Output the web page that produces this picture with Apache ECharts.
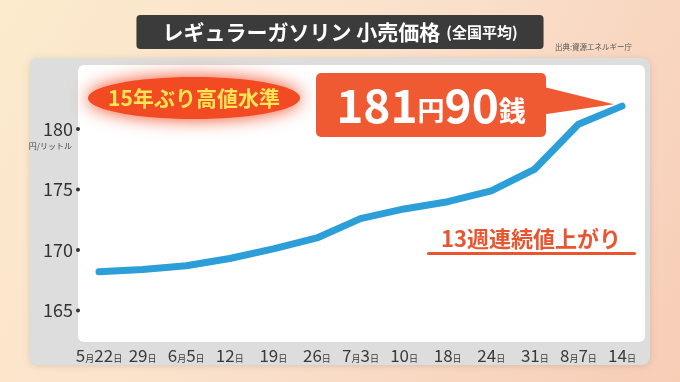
<!DOCTYPE html>
<html>
<head>
<meta charset="utf-8">
<script src="https://cdn.jsdelivr.net/npm/echarts@6/dist/echarts.min.js"></script>
<style>
html,body{margin:0;padding:0;width:680px;height:382px;overflow:hidden;}
#c{width:680px;height:382px;}
</style>
</head>
<body>
<div id="c"></div>
<script>
// ---- data ----
const categories = ['5月22日','29日','6月5日','12日','19日','26日','7月3日','10日','18日','24日','31日','8月7日','14日'];
const prices = [168.2, 168.4, 168.7, 169.3, 170.1, 171.0, 172.6, 173.4, 174.0, 174.9, 176.7, 180.4, 181.9];
const yTicks = [165, 170, 175, 180];
const titleMain = 'レギュラーガソリン 小売価格';
const titleSub = '(全国平均)';
const sourceText = '出典:資源エネルギー庁';
const unitText = '円/リットル';
const badgeText = '15年ぶり高値水準';
const calloutText = ['181', '円', '90', '銭'];
const streakText = '13週連続値上がり';

const FONT = '"Noto Sans CJK JP", "Noto Sans", sans-serif';
const chart = echarts.init(document.getElementById('c'), null, {renderer: 'canvas'});

function xFmt(v) {
  return v.replace(/(\d+)/g, '{n|$1}').replace(/月/g, '{s|月}').replace(/日/g, '{s|日}');
}

const option = {
  animation: false,
  textStyle: {fontFamily: FONT},
  title: {
    text: '{a|' + titleMain + '}{b|' + titleSub + '}',
    left: 'center',
    top: 15,
    backgroundColor: '#3b3b3b',
    borderRadius: 4,
    padding: [7, 26, 6, 26],
    textStyle: {
      rich: {
        a: {fontFamily: FONT, fontSize: 21, fontWeight: 'bold', color: '#ffffff', padding: [0, 6, 0, 0]},
        b: {fontFamily: FONT, fontSize: 15, fontWeight: 'bold', color: '#ffffff'}
      }
    }
  },
  grid: {left: 99, right: 58, top: 65, bottom: 40, containLabel: false},
  xAxis: {
    type: 'category',
    data: categories,
    boundaryGap: false,
    axisLine: {show: false},
    axisTick: {show: false},
    axisLabel: {
      margin: 5,
      interval: 0,
      formatter: xFmt,
      rich: {
        n: {fontFamily: FONT, fontSize: 17, color: '#3a3a3a', verticalAlign: 'bottom'},
        s: {fontFamily: FONT, fontSize: 9, color: '#3a3a3a', verticalAlign: 'bottom', padding: [0, 0, 1, 0]}
      }
    }
  },
  yAxis: {
    type: 'value',
    min: 162.4,
    max: 185.3,
    splitLine: {show: false},
    axisLine: {show: false},
    axisTick: {show: false},
    axisLabel: {
      customValues: yTicks,
      margin: 19,
      formatter: v => '{n|' + v + '}{g|}{d|}',
      rich: {
        n: {fontFamily: FONT, fontSize: 18, color: '#333333'},
        g: {width: 3, height: 4},
        d: {width: 4, height: 4, borderRadius: 2, backgroundColor: '#333333'}
      }
    }
  },
  series: [{
    type: 'line',
    data: prices,
    symbol: 'none',
    z: 5,
    lineStyle: {color: '#2c9fd8', width: 7, cap: 'round', join: 'round'}
  }],
  graphic: []
};

chart.setOption(option);

const last = chart.convertToPixel({seriesIndex: 0}, [categories.length - 1, prices[prices.length - 1]]);

const graphics = [
  // background
  {type: 'rect', z: -20, silent: true, shape: {x: 0, y: 0, width: 680, height: 382},
   style: {fill: new echarts.graphic.LinearGradient(0, 0, 1, 1, [
     {offset: 0, color: '#fcebcd'}, {offset: 0.5, color: '#fae0cb'}, {offset: 1, color: '#f7cdb6'}])}},
  // grey panel
  {type: 'rect', z: -15, silent: true, shape: {x: 30, y: 58, width: 620, height: 307, r: 8},
   style: {fill: '#dcdddc', shadowBlur: 6, shadowColor: 'rgba(0,0,0,0.12)', shadowOffsetY: 1}},
  // white plot area
  {type: 'rect', z: -10, silent: true, shape: {x: 78, y: 65, width: 567, height: 277, r: 6},
   style: {fill: '#ffffff'}},
  // source
  {type: 'text', z: 10, left: 555, top: 43,
   style: {text: sourceText, fontFamily: FONT, fontSize: 7.5, fill: '#555555'}},
  // unit
  {type: 'text', z: 10, x: 72, y: 146,
   style: {text: unitText, fontFamily: FONT, fontSize: 8, fill: '#444444', align: 'right', verticalAlign: 'middle'}},
  // badge glow
  {type: 'ellipse', z: 8, silent: true, shape: {cx: 194, cy: 98, rx: 106, ry: 21},
   style: {fill: '#f24a22', shadowBlur: 18, shadowColor: '#f24a22'}},
  {type: 'text', z: 9, x: 194, y: 98,
   style: {text: badgeText, fontFamily: FONT, fontSize: 21, fontWeight: 'bold', fill: '#ffe553',
           align: 'center', verticalAlign: 'middle'}},
  // callout pointer
  {type: 'polygon', z: 7, silent: true,
   shape: {points: [[540, 86], [last[0] - 8, last[1] - 2], [540, 115]]},
   style: {fill: '#f05a33'}},
  // callout box
  {type: 'rect', z: 8, silent: true, shape: {x: 316, y: 73, width: 230, height: 64, r: 5},
   style: {fill: '#f05a33'}},
  {type: 'text', z: 9, x: 431, y: 106,
   style: {
     text: '{a|' + calloutText[0] + '}{b|' + calloutText[1] + '}{a|' + calloutText[2] + '}{b|' + calloutText[3] + '}',
     align: 'center', verticalAlign: 'middle',
     rich: {
       a: {fontFamily: FONT, fontSize: 46, fontWeight: 'bold', fill: '#ffffff', verticalAlign: 'bottom'},
       b: {fontFamily: FONT, fontSize: 27, fontWeight: 'bold', fill: '#ffffff', verticalAlign: 'bottom', padding: [0, 0, 5, 0]}
     }
   }},
  // streak
  {type: 'text', z: 9, x: 531, y: 239,
   style: {text: streakText, fontFamily: FONT, fontSize: 22, fontWeight: 'bold', fill: '#e8552f',
           align: 'center', verticalAlign: 'middle'}},
  {type: 'rect', z: 9, silent: true, shape: {x: 427, y: 252, width: 209, height: 3, r: 1.5},
   style: {fill: '#e8552f'}}
];

chart.setOption({graphic: graphics});
</script>
</body>
</html>
